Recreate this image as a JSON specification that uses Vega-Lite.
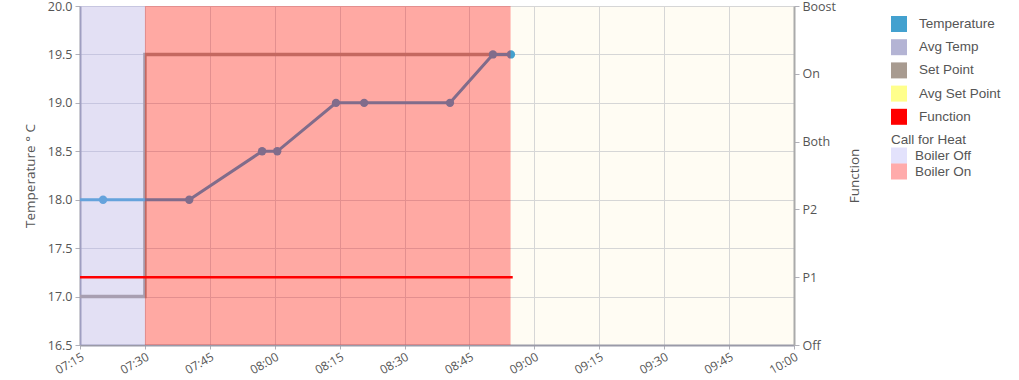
{
  "$schema": "https://vega.github.io/schema/vega-lite/v6.json",
  "width": 714,
  "height": 339,
  "padding": {"left": 23, "top": 0, "right": 0, "bottom": 0},
  "background": "white",
  "config": {
    "view": {"fill": "#fffcf3", "stroke": null},
    "axis": {
      "labelFont": "Open Sans",
      "labelFontSize": 12.5,
      "labelColor": "#555555",
      "titleFont": "Open Sans",
      "titleFontSize": 13.5,
      "titleFontWeight": "normal",
      "titleColor": "#555555",
      "domainColor": "#9a9aa8",
      "domainWidth": 2,
      "tickColor": "#b0b0b8",
      "tickSize": 5,
      "gridColor": "#d6d6d6"
    }
  },
  "layer": [
    {
      "layer": [
        {
          "data": {"values": [
            {"t": "2024-01-01T07:10:00", "series": "Set Point", "temp": 17.0},
            {"t": "2024-01-01T07:30:00", "series": "Set Point", "temp": 19.5},
            {"t": "2024-01-01T08:54:35", "series": "Set Point", "temp": 19.5}
          ]},
          "mark": {"type": "line", "interpolate": "step-after", "strokeWidth": 3.5, "clip": true},
          "encoding": {
            "x": {"field": "t", "type": "temporal",
              "scale": {"domain": [{"year": 2024, "month": 1, "date": 1, "hours": 7, "minutes": 15}, {"year": 2024, "month": 1, "date": 1, "hours": 10, "minutes": 0}]},
              "axis": {"title": null, "format": "%H:%M", "labelAngle": -30, "labelPadding": 2, "tickSize": 4, "labelFontSize": 12}},
            "y": {"field": "temp", "type": "quantitative",
              "scale": {"domain": [16.5, 20], "nice": false, "zero": false},
              "axis": {"title": "Temperature ° C", "values": [16.5, 17, 17.5, 18, 18.5, 19, 19.5, 20], "format": ".1f", "titlePadding": 10, "labelPadding": 3}},
            "color": {"field": "series", "type": "nominal",
              "scale": {"domain": ["Temperature", "Avg Temp", "Set Point", "Avg Set Point", "Function"], "range": ["#43a1cf", "#b4b4d4", "#a89b90", "#ffff8c", "#ff0000"]},
              "legend": {
                "orient": "none", "legendX": 811, "legendY": 10, "title": null,
                "symbolType": "square", "symbolSize": 256, "symbolStrokeWidth": 0,
                "labelFont": "Liberation Sans", "labelFontSize": 13.5, "labelColor": "#555555",
                "labelOffset": 12, "rowPadding": 7.2, "padding": 0
              }}
          }
        },
        {
          "data": {"values": [
            {"t": "2024-01-01T07:12:00", "series": "Temperature", "temp": 18.0},
            {"t": "2024-01-01T07:20:20", "series": "Temperature", "temp": 18.0},
            {"t": "2024-01-01T07:40:15", "series": "Temperature", "temp": 18.0},
            {"t": "2024-01-01T07:57:05", "series": "Temperature", "temp": 18.5},
            {"t": "2024-01-01T08:00:35", "series": "Temperature", "temp": 18.5},
            {"t": "2024-01-01T08:14:10", "series": "Temperature", "temp": 19.0},
            {"t": "2024-01-01T08:20:40", "series": "Temperature", "temp": 19.0},
            {"t": "2024-01-01T08:40:30", "series": "Temperature", "temp": 19.0},
            {"t": "2024-01-01T08:50:25", "series": "Temperature", "temp": 19.5},
            {"t": "2024-01-01T08:54:35", "series": "Temperature", "temp": 19.5}
          ]},
          "layer": [
            {
              "mark": {"type": "line", "strokeWidth": 3, "clip": true},
              "encoding": {
                "x": {"field": "t", "type": "temporal"},
                "y": {"field": "temp", "type": "quantitative"},
                "color": {"field": "series", "type": "nominal"}
              }
            },
            {
              "mark": {"type": "point", "filled": true, "size": 70, "opacity": 1, "clip": true},
              "encoding": {
                "x": {"field": "t", "type": "temporal"},
                "y": {"field": "temp", "type": "quantitative"},
                "color": {"field": "series", "type": "nominal"}
              }
            }
          ]
        },
        {
          "data": {"values": [
            {"band": "Boiler Off", "start": "2024-01-01T07:10:00", "end": "2024-01-01T07:30:00"},
            {"band": "Boiler On", "start": "2024-01-01T07:30:00", "end": "2024-01-01T08:54:30"}
          ]},
          "mark": {"type": "rect", "opacity": 0.33, "clip": true},
          "encoding": {
            "x": {"field": "start", "type": "temporal"},
            "x2": {"field": "end"},
            "fill": {"field": "band", "type": "nominal",
              "scale": {"domain": ["Boiler Off", "Boiler On"], "range": ["#a9a8f5", "#ff0000"]},
              "legend": {
                "orient": "none", "legendX": 811, "legendY": 127, "title": "Call for Heat",
                "titleFont": "Liberation Sans", "titleFontSize": 13.5, "titleFontWeight": "normal", "titleColor": "#555555", "titlePadding": 1,
                "symbolType": "square", "symbolSize": 256, "symbolStrokeWidth": 0,
                "labelFont": "Liberation Sans", "labelFontSize": 13.5, "labelColor": "#555555",
                "labelOffset": 8, "rowPadding": 0, "padding": 0
              }}
          }
        }
      ]
    },
    {
      "data": {"values": [
        {"t": "2024-01-01T07:10:00", "series": "Function", "mode": "P1"},
        {"t": "2024-01-01T08:55:00", "series": "Function", "mode": "P1"}
      ]},
      "mark": {"type": "line", "strokeWidth": 2.5, "clip": true},
      "encoding": {
        "x": {"field": "t", "type": "temporal"},
        "y": {"field": "mode", "type": "ordinal",
          "scale": {"type": "point", "domain": ["Boost", "On", "Both", "P2", "P1", "Off"], "padding": 0},
          "axis": {"orient": "right", "title": "Function", "titleAngle": 270, "titlePadding": 26, "labelPadding": 3, "domainColor": "#aaaaaa"}},
        "color": {"field": "series", "type": "nominal"}
      }
    }
  ],
  "resolve": {"scale": {"y": "independent"}}
}
